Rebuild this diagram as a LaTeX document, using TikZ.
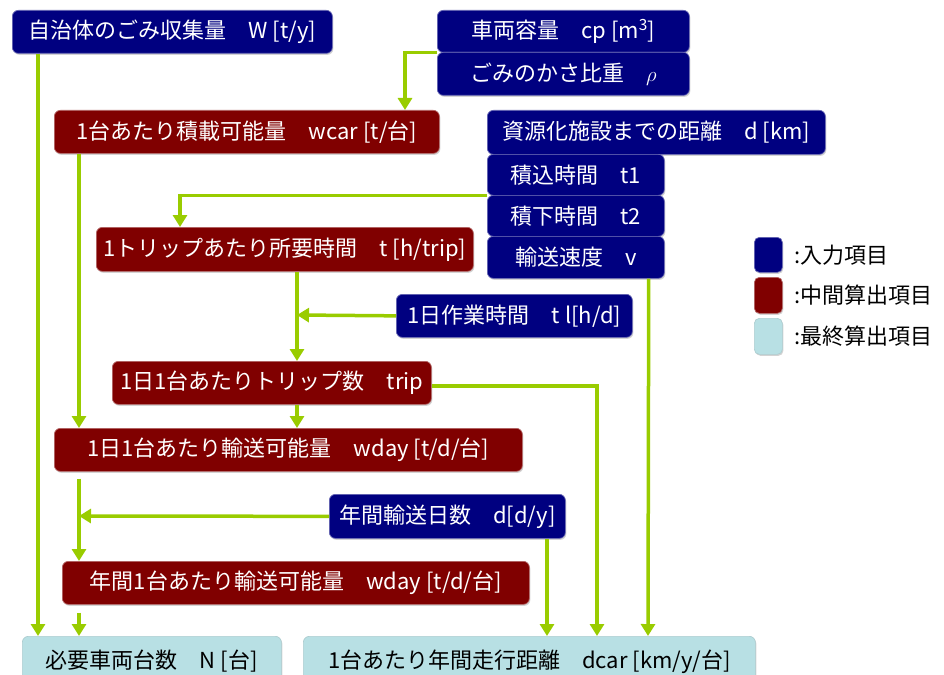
\documentclass[tikz,border=0pt]{standalone}
\usepackage{fontspec}
\setmainfont{Noto Sans CJK JP}
\usetikzlibrary{arrows.meta,calc,shadows}
\definecolor{inblue}{HTML}{000080}
\definecolor{midred}{HTML}{800000}
\definecolor{fincyan}{HTML}{B8E0E4}
\definecolor{lgreen}{HTML}{99CC00}
\begin{document}
\begin{tikzpicture}[x=1pt,y=1pt,
  box/.style={rounded corners=6pt, anchor=north west, inner sep=0pt, align=center,
     font=\fontsize{22}{26}\selectfont, drop shadow={shadow xshift=1pt, shadow yshift=-1.5pt, opacity=0.35}},
  inbox/.style={box, fill=inblue, draw=inblue!60!white, line width=0.7pt, text=white},
  midbox/.style={box, fill=midred, draw=midred!60!white, line width=0.7pt, text=white},
  finbox/.style={box, fill=fincyan, draw=fincyan!80!gray, line width=0.7pt, text=black},
  arr/.style={draw=lgreen, line width=3.5pt, -{Triangle[width=14pt,length=12pt]}},
  legtext/.style={anchor=west, font=\fontsize{22}{26}\selectfont, text=black}]
\useasboundingbox (0,0) rectangle (944,-674);
% input boxes
\node[inbox, minimum width=320, minimum height=43] (W) at (12,-10) {自治体のごみ収集量　W [t/y]};
\node[inbox, minimum width=252, minimum height=42] (cp) at (437,-10) {車両容量　cp [m\textsuperscript{3}]};
\node[inbox, minimum width=252, minimum height=43] (rho) at (437,-52) {ごみのかさ比重　$\rho$};
\node[inbox, minimum width=338, minimum height=44] (d) at (487,-110) {資源化施設までの距離　d [km]};
\node[inbox, minimum width=177, minimum height=41] (t1) at (487,-154) {積込時間　t1};
\node[inbox, minimum width=177, minimum height=41] (t2) at (487,-195) {積下時間　t2};
\node[inbox, minimum width=177, minimum height=42] (v) at (487,-236) {輸送速度　v};
\node[inbox, minimum width=236, minimum height=43] (tl) at (396,-294) {1日作業時間　t l[h/d]};
\node[inbox, minimum width=236, minimum height=44] (dy) at (329,-494) {年間輸送日数　d[d/y]};
% intermediate boxes
\node[midbox, minimum width=385, minimum height=43] (wcar) at (54,-110) {1台あたり積載可能量　wcar [t/台]};
\node[midbox, minimum width=377, minimum height=44] (t) at (96,-227) {1トリップあたり所要時間　t [h/trip]};
\node[midbox, minimum width=319, minimum height=43] (trip) at (112,-361) {1日1台あたりトリップ数　trip};
\node[midbox, minimum width=468, minimum height=43] (wday) at (54,-428) {1日1台あたり輸送可能量　wday [t/d/台]};
\node[midbox, minimum width=467, minimum height=43] (wyear) at (62,-561) {年間1台あたり輸送可能量　wday [t/d/台]};
% final boxes
\node[finbox, minimum width=259, minimum height=50] (N) at (22,-636) {必要車両台数　N [台]};
\node[finbox, minimum width=452, minimum height=50] (dcar) at (303,-636) {1台あたり年間走行距離　dcar [km/y/台]};
% legend
\node[inbox, minimum width=28, minimum height=35, rounded corners=5pt] (L1) at (754,-237) {};
\node[midbox, minimum width=28, minimum height=36, rounded corners=5pt] (L2) at (754,-277) {};
\node[finbox, minimum width=28, minimum height=36, rounded corners=5pt] (L3) at (754,-318) {};
\node[legtext] (T1) at ([xshift=8]L1.east) {:入力項目};
\node[legtext] (T2) at ([xshift=8]L2.east) {:中間算出項目};
\node[legtext] (T3) at ([xshift=8]L3.east) {:最終算出項目};
% connectors
\coordinate (j1) at (297,-315);
\coordinate (j2) at (79,-516);
\draw[arr] ([xshift=26]W.south west) -- ([xshift=16]N.north west);
\draw[arr] (cp.south west) -| ([xshift=351]wcar.north west);
\draw[arr] ([xshift=25]wcar.south west) -- ([xshift=25]wday.north west);
\draw[arr] (t1.south west) -| ([xshift=84]t.north west);
\draw[arr] ([xshift=201]t.south west) -- ([xshift=185]trip.north west);
\draw[arr] (tl.west) -- (j1);
\draw[arr] ([xshift=185]trip.south west) -- ([xshift=243]wday.north west);
\draw[arr] ([yshift=-3]trip.east) -| ([xshift=294]dcar.north west);
\draw[arr] ([xshift=-16]v.south east) -- ([xshift=345]dcar.north west);
\draw[arr] ([xshift=25,yshift=-7]wday.south west) -- ([xshift=17]wyear.north west);
\draw[arr] (dy.west) -- (j2);
\draw[arr] ([xshift=218]dy.south west) -- ([xshift=244]dcar.north west);
\draw[arr] ([xshift=17,yshift=-8]wyear.south west) -- ([xshift=57]N.north west);
\end{tikzpicture}
\end{document}
